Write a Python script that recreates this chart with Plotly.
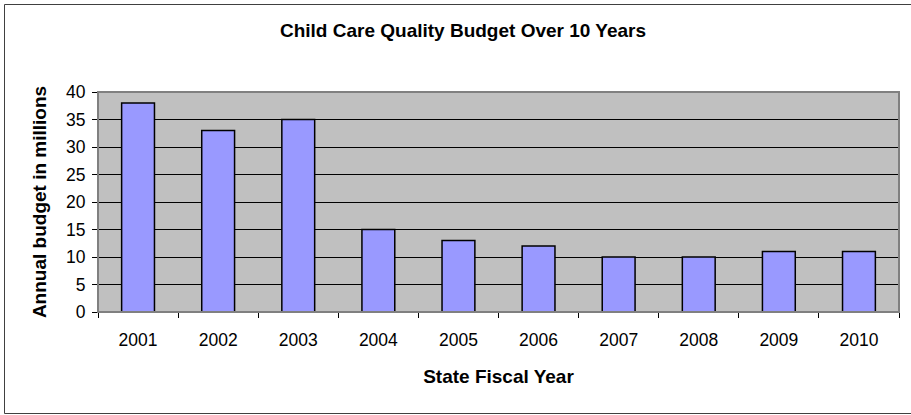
import plotly.graph_objects as go

years = ["2001", "2002", "2003", "2004", "2005", "2006", "2007", "2008", "2009", "2010"]
budget = [38, 33, 35, 15, 13, 12, 10, 10, 11, 11]
y_ticks = [0, 5, 10, 15, 20, 25, 30, 35, 40]

W, H = 911, 415
L, R, T, B = 98, 12, 92, 103
pw, ph = W - L - R, H - T - B

def px_x(p):
    return (p - L) / pw

def px_y(p):
    return (H - B - p) / ph

FONT = "Liberation Sans, Arial, sans-serif"

fig = go.Figure(go.Bar(
    x=years, y=budget,
    marker=dict(color="#9999FF", line=dict(color="black", width=1.5)),
))

fig.update_layout(
    width=W, height=H,
    margin=dict(l=L, r=R, t=T, b=B),
    paper_bgcolor="white",
    plot_bgcolor="#C0C0C0",
    bargap=0.59,
    showlegend=False,
    font=dict(family=FONT, color="black", size=17.5),
    title=dict(text="<b>Child Care Quality Budget Over 10 Years</b>",
               x=463 / W, xref="container", xanchor="center",
               y=1 - 30 / H, yref="container", yanchor="middle",
               font=dict(size=19, family=FONT, color="black")),
    xaxis=dict(
        type="category", tickson="boundaries", ticks="outside", ticklen=5,
        tickcolor="black", showline=True, linecolor="black", linewidth=1,
        showgrid=False, tickfont=dict(size=17.5), ticklabelstandoff=12,
        title=dict(text="<b>State Fiscal Year</b>", font=dict(size=19), standoff=20),
    ),
    yaxis=dict(
        range=[0, 40], tickvals=y_ticks, ticks="outside", ticklen=5,
        tickcolor="black", showline=True, linecolor="black", linewidth=1,
        showgrid=True, gridcolor="black", gridwidth=1, zeroline=False,
        tickfont=dict(size=17.5), ticklabelstandoff=3,
        title=dict(text="<b>Annual budget in millions</b>", font=dict(size=19), standoff=14),
    ),
    shapes=[
        dict(type="rect", xref="paper", yref="paper",
             x0=px_x(4.5), x1=px_x(915), y0=px_y(4.5), y1=px_y(413.5),
             line=dict(color="#404040", width=1), layer="below"),
        dict(type="rect", xref="paper", yref="paper",
             x0=0, x1=1, y0=0, y1=1,
             line=dict(color="#808080", width=2), layer="above"),
    ],
)

fig.write_html("out.html", config={"displayModeBar": False},
               post_script="document.body.style.margin='0';")
